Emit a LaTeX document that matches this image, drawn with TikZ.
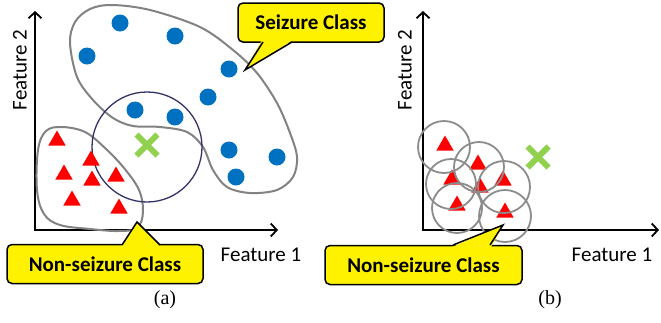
\documentclass[tikz,border=0pt]{standalone}
\usepackage{fontspec}
\setmainfont{Carlito}
\newfontfamily\capfont{Liberation Serif}
\usetikzlibrary{arrows.meta,shapes.geometric,shapes.misc}
\definecolor{dotblue}{RGB}{0,112,192}
\definecolor{blobgray}{RGB}{130,130,130}
\definecolor{ringgray}{RGB}{140,140,140}
\definecolor{ringnavy}{RGB}{50,50,105}
\definecolor{crossgreen}{RGB}{146,208,80}

\begin{document}
\begin{tikzpicture}[x=1pt, y=-1pt,
  axis/.style={line width=1.8pt, {Straight Barb[length=6pt,width=13pt]}-{Straight Barb[length=6pt,width=13pt]}},
  lab/.style={font=\fontsize{21}{24}\selectfont, inner sep=0},
  caplab/.style={font=\capfont\fontsize{20}{22}\selectfont, inner sep=0},
  dot/.style={circle, fill=dotblue, inner sep=0, minimum size=17pt},
  tri/.style={regular polygon, regular polygon sides=3, fill=red, inner sep=0, minimum size=20pt, yshift=2.5pt},
  blob/.style={draw=blobgray, line width=2pt},
  ring/.style={circle, draw=ringgray, line width=1.8pt, inner sep=0},
  query/.style={cross out, draw=crossgreen, line width=6pt, minimum size=15pt, inner sep=0},
  callbox/.style={draw=black, line width=1.5pt, fill=yellow, rounded corners=5pt, minimum height=39pt, font=\bfseries\fontsize{21}{24}\selectfont, inner sep=0},
  callptr/.style={line width=1.5pt, line join=miter}
]
\useasboundingbox (0,0) rectangle (661,322);

% (a) axes
\coordinate (oa) at (35,230);
\coordinate (ya) at (35,11);
\coordinate (xa) at (278,230);
\draw[axis] (ya) -- (oa) -- (xa);
\node[lab, rotate=90] (f2a) at (20,70) {Feature 2};
\node[lab] (f1a) at (261,255) {Feature 1};

% class regions
\draw[blob] plot[smooth cycle, tension=0.55] coordinates {(70,43) (75,22) (90,9) (112,5) (150,10) (200,27) (233,50) (257,73) (277,103) (290,133) (297,157) (293,177) (277,190) (250,193) (227,187) (213,170) (203,147) (187,132) (160,127) (133,126) (113,118) (93,100) (77,77)};
\draw[blob] plot[smooth cycle, tension=0.6] coordinates {(38,150) (46,131) (62,127) (85,132) (105,148) (124,168) (139,190) (143,212) (137,228) (118,231) (90,229) (60,225) (44,214) (37,190)};

% neighbourhood of the query point
\node[circle, draw=ringnavy, line width=1.3pt, inner sep=0, minimum size=110pt] (hooda) at (147,147) {};

\foreach \x/\y [count=\i] in {120/23, 175/36, 87/56, 229/69, 208/97, 135/110, 175/117, 229/150, 277/157, 236/177}
  \node[dot] (s\i) at (\x,\y) {};
\foreach \x/\y [count=\i] in {57/143, 91/163, 64/177, 92/183, 116/179, 72/203, 119/211}
  \node[tri] (n\i) at (\x,\y) {};
\node[query] (qa) at (147,145) {};

% (b) axes
\coordinate (ob) at (423,230);
\coordinate (yb) at (423,11);
\coordinate (xb) at (659,230);
\draw[axis] (yb) -- (ob) -- (xb);
\node[lab, rotate=90] (f2b) at (405,70) {Feature 2};
\node[lab] (f1b) at (612,255) {Feature 1};

\foreach \x/\y [count=\i] in {445/148, 478/167, 452/182, 503/183, 480/190, 457/208, 505/215}
  \node[tri] (m\i) at (\x,\y) {};
\foreach \x/\y/\d [count=\i] in {444/147/52, 479/167/50, 451/184/50, 504/187/52, 457/208/50, 505/216/52}
  \node[ring, minimum size=\d pt] (r\i) at (\x,\y) {};
\node[query] (qb) at (538,157) {};

% callouts
\node[callbox, minimum width=146pt] (seizlab) at (311,22.5) {Seizure Class};
\coordinate (seiztip) at (245,70);
\fill[yellow] (262,40) -- (seiztip) -- (293,40) -- cycle;
\draw[callptr] (263,42) -- (seiztip) -- (292,42);

\node[callbox, minimum width=196pt] (nonlaba) at (105,264) {Non-seizure Class};
\coordinate (nontipa) at (137,222);
\fill[yellow] (121,247) -- (nontipa) -- (161,247) -- cycle;
\draw[callptr] (122,245) -- (nontipa) -- (160,245);

\node[callbox, minimum width=197pt] (nonlabb) at (423.5,265) {Non-seizure Class};
\coordinate (nontipb) at (503,225);
\fill[yellow] (452,247) -- (nontipb) -- (491,247) -- cycle;
\draw[callptr] (453,245) -- (nontipb) -- (490,245);

\node[caplab] (capa) at (165,300) {(a)};
\node[caplab] (capb) at (550,300) {(b)};
\end{tikzpicture}
\end{document}
